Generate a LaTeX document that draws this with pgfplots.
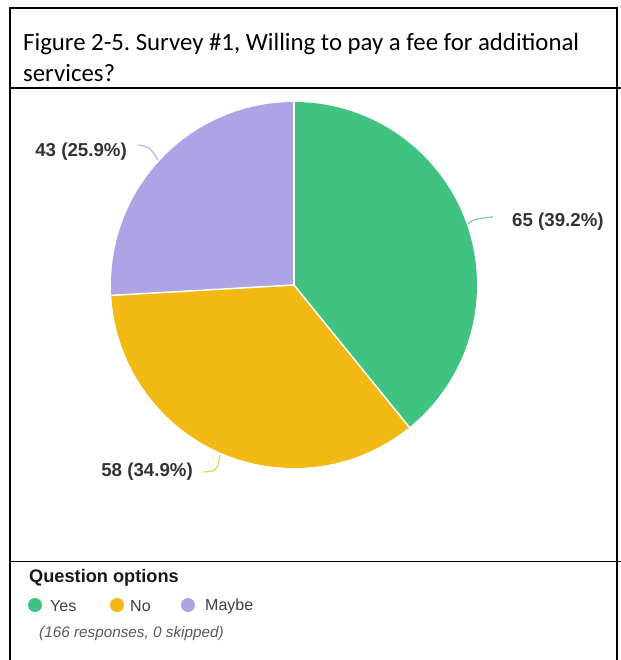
\documentclass[border=0pt]{standalone}
\usepackage{pgfplots}
\usepackage{pgfplotstable}
\pgfplotsset{compat=1.18}
\usepackage{fontspec}
\setmainfont{Carlito}
\newfontfamily\arial{Liberation Sans}
\definecolor{yescol}{HTML}{40C380}
\definecolor{nocol}{HTML}{F2B914}
\definecolor{maybecol}{HTML}{ACA4E4}
\definecolor{lbl}{HTML}{333333}
\pgfplotstableread{
label value
Yes 65
No 58
Maybe 43
}\piedata
\frenchspacing
\begin{document}
\begin{tikzpicture}
\path[use as bounding box] (0,0) rectangle (621bp,-660bp);
% frame
\draw[line width=1.6bp] (10bp,-660bp) -- (10bp,-8bp) -- (617bp,-8bp) -- (617bp,-660bp);
\draw[line width=1.6bp] (10bp,-88bp) -- (621bp,-88bp);
\draw[line width=1.6bp] (10bp,-561.5bp) -- (621bp,-561.5bp);
% title
\node[anchor=base west,inner sep=0pt,font=\fontsize{24.8bp}{30bp}\selectfont] at (23bp,-50bp) {Figure 2-5. Survey \#1, Willing to pay a fee for additional};
\node[anchor=base west,inner sep=0pt,font=\fontsize{24.8bp}{30bp}\selectfont] at (23bp,-81bp) {services?};
\pgfplotstablegetelem{0}{value}\of\piedata \let\vY\pgfplotsretval
\pgfplotstablegetelem{1}{value}\of\piedata \let\vN\pgfplotsretval
\pgfplotstablegetelem{2}{value}\of\piedata \let\vM\pgfplotsretval
\pgfmathsetmacro{\tot}{\vY+\vN+\vM}
\pgfmathsetmacro{\aA}{90}
\pgfmathsetmacro{\aB}{90-360*(\vY/\tot)}
\pgfmathsetmacro{\aC}{\aB-360*(\vN/\tot)}
\pgfmathsetmacro{\aD}{\aC-360*(\vM/\tot)}
\begin{axis}[hide axis, x=1bp, y=1bp, xmin=-200, xmax=200, ymin=-200, ymax=200,
  scale only axis, clip=false, at={(294bp,-285bp)}, anchor=center]
\fill[yescol] (axis cs:0,0) -- ({axis cs:{183*cos(\aA)},{183*sin(\aA)}}) arc[start angle=\aA, end angle=\aB, radius=183bp] -- cycle;
\fill[nocol] (axis cs:0,0) -- ({axis cs:{183*cos(\aB)},{183*sin(\aB)}}) arc[start angle=\aB, end angle=\aC, radius=183bp] -- cycle;
\fill[maybecol] (axis cs:0,0) -- ({axis cs:{183*cos(\aC)},{183*sin(\aC)}}) arc[start angle=\aC, end angle=\aD, radius=183bp] -- cycle;
\draw[white, line width=1.5bp] (axis cs:0,0) -- ({axis cs:{183*cos(\aA)},{183*sin(\aA)}});
\draw[white, line width=1.5bp] (axis cs:0,0) -- ({axis cs:{183*cos(\aB)},{183*sin(\aB)}});
\draw[white, line width=1.5bp] (axis cs:0,0) -- ({axis cs:{183*cos(\aC)},{183*sin(\aC)}});
% leader lines
\draw[yescol!70, line width=1.3bp] (axis cs:174,61) .. controls (axis cs:180,66) .. (axis cs:199,68);
\draw[nocol!70, line width=1.3bp] (axis cs:-74,-170) .. controls (axis cs:-77,-186) .. (axis cs:-91,-187);
\draw[maybecol!80, line width=1.3bp] (axis cs:-136,125) .. controls (axis cs:-144,138) .. (axis cs:-156,140);
% labels
\node[anchor=west, inner sep=0pt, text=lbl, font=\arial\bfseries\fontsize{18.7bp}{21bp}\selectfont] at (axis cs:218,63) {65 (39.2\%)};
\node[anchor=east, inner sep=0pt, text=lbl, font=\arial\bfseries\fontsize{18.7bp}{21bp}\selectfont] at (axis cs:-101,-187) {58 (34.9\%)};
\node[anchor=east, inner sep=0pt, text=lbl, font=\arial\bfseries\fontsize{18.7bp}{21bp}\selectfont] at (axis cs:-167,133) {43 (25.9\%)};
\end{axis}
% legend
\node[anchor=west, inner sep=0pt, text=black!90, font=\arial\bfseries\fontsize{18.2bp}{21bp}\selectfont] at (29bp,-578bp) {Question options};
\fill[yescol] (35bp,-605bp) circle (7bp);
\fill[nocol] (117bp,-605bp) circle (7bp);
\fill[maybecol] (188bp,-605bp) circle (7bp);
\node[anchor=west, inner sep=0pt, text=black!75, font=\arial\fontsize{16bp}{19bp}\selectfont] at (50bp,-606bp) {Yes};
\node[anchor=west, inner sep=0pt, text=black!75, font=\arial\fontsize{16bp}{19bp}\selectfont] at (130bp,-606bp) {No};
\node[anchor=west, inner sep=0pt, text=black!75, font=\arial\fontsize{16bp}{19bp}\selectfont] at (205bp,-606bp) {Maybe};
\node[anchor=west, inner sep=0pt, text=black!65, font=\arial\itshape\fontsize{15.3bp}{18bp}\selectfont] at (39bp,-634bp) {(166 responses, 0 skipped)};
\end{tikzpicture}
\end{document}
